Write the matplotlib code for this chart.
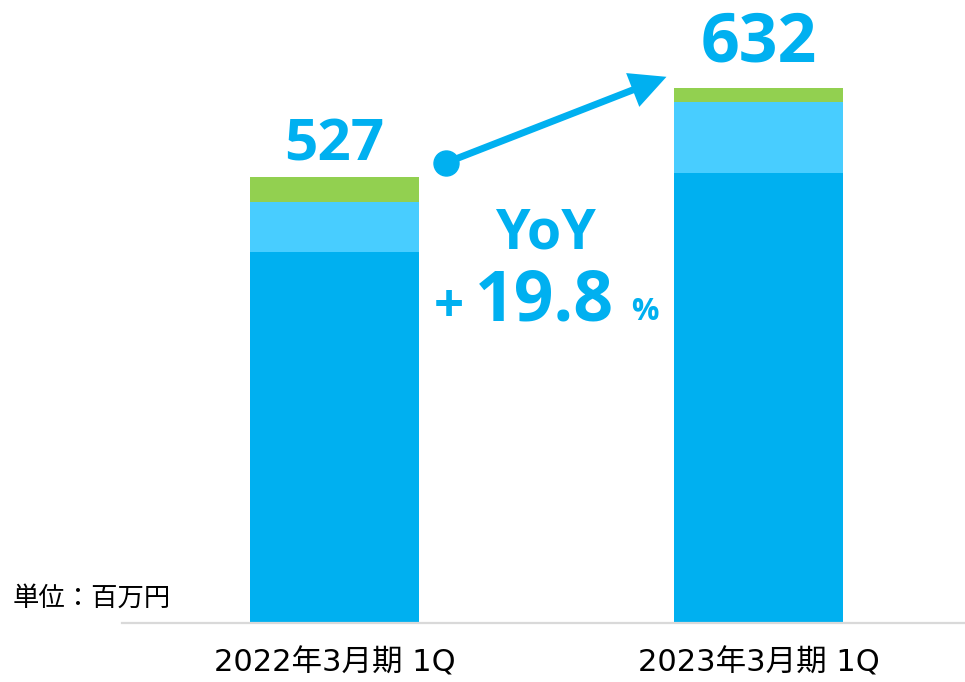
import matplotlib
matplotlib.use("Agg")
import matplotlib.pyplot as plt
from matplotlib.patches import FancyArrowPatch
from matplotlib import font_manager as fm
import os

# ---- data ----
categories = ["2022年3月期 1Q", "2023年3月期 1Q"]
seg_main = [438, 532]      # dark blue
seg_mid = [60, 84]         # light blue
seg_top = [29, 16]         # green
totals = [527, 632]
yoy_label = "YoY"
yoy_value = "19.8"
unit_label = "単位：百万円"

# ---- styles ----
c_main = "#00B0F0"
c_mid = "#48CDFF"
c_top = "#92D050"
c_text = "#00B0F0"
cjk = ["DejaVu Sans", "Noto Sans CJK JP"]


def pick_bold():
    for fam in ["Noto Sans", "Open Sans", "Lato", "Roboto", "Liberation Sans"]:
        try:
            p = fm.findfont(fm.FontProperties(family=fam, weight="bold"),
                            fallback_to_default=False)
        except Exception:
            continue
        name = os.path.basename(p).lower()
        if "bold" in name or "black" in name:
            return fam
    return "DejaVu Sans"


bold_font = pick_bold()

W, H = 965, 682
fig = plt.figure(figsize=(W / 100, H / 100), dpi=100)
ax_left = 122 / W
ax_bottom = (H - 623.3) / H
ax = fig.add_axes([ax_left, ax_bottom, 1 - ax_left, 1 - ax_bottom])

x = [0, 1]
width = 0.4
b1 = [m for m in seg_main]
b2 = [m + n for m, n in zip(seg_main, seg_mid)]
ax.bar(x, seg_main, width, color=c_main, edgecolor="none")
ax.bar(x, seg_mid, width, bottom=b1, color=c_mid, edgecolor="none")
ax.bar(x, seg_top, width, bottom=b2, color=c_top, edgecolor="none")

ax.set_xlim(-0.501, 1.487)
ax.set_ylim(0, 736)

for s in ["top", "right", "left"]:
    ax.spines[s].set_visible(False)
ax.spines["bottom"].set_color("#D9D9D9")
ax.spines["bottom"].set_linewidth(1.6)
ax.set_yticks([])
ax.set_xticks(x)
ax.set_xticklabels(categories, fontsize=22, family=cjk, color="#000000")
ax.tick_params(axis="x", length=0, pad=18)

# total labels
ax.text(0, 547, str(totals[0]), ha="center", va="baseline", fontsize=42,
        fontweight="bold", family=bold_font, color=c_text)
ax.text(1.0, 663, str(totals[1]), ha="center", va="baseline", fontsize=49,
        fontweight="bold", family=bold_font, color=c_text)

# arrow with dot
dot = (0.263, 543.8)
tip = (0.783, 645.3)
ax.plot([dot[0]], [dot[1]], marker="o", markersize=18, color=c_main,
        clip_on=False, zorder=5)
arr = FancyArrowPatch(dot, tip, arrowstyle="-|>,head_length=0.9,head_width=0.45",
                      mutation_scale=20, color=c_main, linewidth=5,
                      shrinkA=0, shrinkB=0, zorder=5, clip_on=False,
                      joinstyle="miter", capstyle="butt")
ax.add_patch(arr)

# YoY text
ax.text(0.498, 443, yoy_label, ha="center", va="baseline", fontsize=40,
        fontweight="bold", family=bold_font, color=c_text)
ax.text(0.27, 372, "+", ha="center", va="center", fontsize=38,
        fontweight="bold", family=bold_font, color=c_text)
ax.text(0.33, 358, yoy_value, ha="left", va="baseline", fontsize=50,
        fontweight="bold", family=bold_font, color=c_text)
ax.text(0.70, 358, "%", ha="left", va="baseline", fontsize=22,
        fontweight="bold", family=bold_font, color=c_text)

fig.text(13 / W, 1 - 598 / H, unit_label, ha="left", va="center",
         fontsize=19, family=["Noto Sans CJK JP", "DejaVu Sans"], color="#000000")

fig.savefig("out.png", dpi=100)
